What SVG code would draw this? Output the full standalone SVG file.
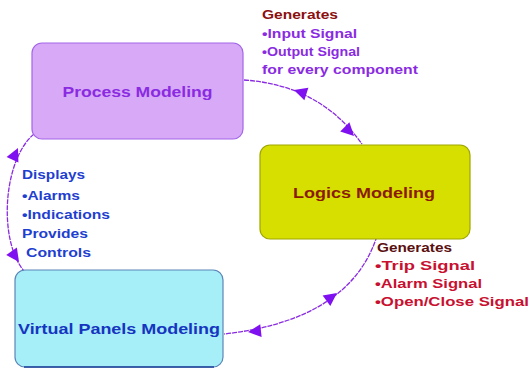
<svg xmlns="http://www.w3.org/2000/svg" xmlns:xlink="http://www.w3.org/1999/xlink" width="530" height="369" viewBox="0 0 530 369">
  <style>
    text { font-family: "Liberation Sans", Arial, sans-serif; font-weight: bold; }
    .lbl { font-size: 14.5px; }
    .note { font-size: 12.5px; }
    .conn { fill: none; stroke: #8a2be2; stroke-width: 1.3; stroke-dasharray: 5 1; }
    .head { fill: #7f10f0; }
  </style>
  <defs>
    <!-- arrowhead, tip at origin pointing along +x -->
    <path id="ah" d="M0,0 L-13,-6.5 L-13,6.5 Z"/>
  </defs>
  <rect width="530" height="369" fill="#ffffff"/>

  <g id="connectors">
    <path class="conn" d="M244,80 Q320,85 362,144"/>
    <use class="head" xlink:href="#ah" transform="translate(294,90) rotate(198)"/>
    <use class="head" xlink:href="#ah" transform="translate(354,136) rotate(45)"/>

    <path class="conn" d="M377,236 Q350,320 224,334"/>
    <use class="head" xlink:href="#ah" transform="translate(337,293) rotate(-36)"/>
    <use class="head" xlink:href="#ah" transform="translate(248,332) rotate(174)"/>

    <path class="conn" d="M34,134 C3,160 -2,240 24,271"/>
    <use class="head" xlink:href="#ah" transform="translate(18,148) rotate(-65)"/>
    <use class="head" xlink:href="#ah" transform="translate(19,262) rotate(55)"/>
  </g>

  <g id="process-modeling">
    <rect x="32" y="43" width="211" height="96" rx="10" fill="#d8a9f7" stroke="#a466e8" stroke-width="1.2"/>
    <text class="lbl" x="137.5" y="97" text-anchor="middle" fill="#8a2be2" textLength="150" lengthAdjust="spacingAndGlyphs">Process Modeling</text>
  </g>

  <g id="logics-modeling">
    <rect x="260" y="145" width="210" height="94" rx="10" fill="#d6df00" stroke="#a0a600" stroke-width="1.2"/>
    <text class="lbl" x="364" y="198" text-anchor="middle" fill="#8a1a00" textLength="142" lengthAdjust="spacingAndGlyphs">Logics Modeling</text>
  </g>

  <g id="virtual-panels-modeling">
    <rect x="15" y="270" width="208" height="97" rx="10" fill="#a6eef8" stroke="#5b86b8" stroke-width="1.2"/>
    <line x1="24" y1="367" x2="214" y2="367" stroke="#1d3f9a" stroke-width="1.6"/>
    <text class="lbl" x="119" y="334" text-anchor="middle" fill="#1535c0" textLength="202" lengthAdjust="spacingAndGlyphs">Virtual Panels Modeling</text>
  </g>

  <g id="note-process">
    <text class="note" x="262" y="19" fill="#8b1010" textLength="76" lengthAdjust="spacingAndGlyphs">Generates</text>
    <text class="note" x="262" y="38" fill="#8a2be2" textLength="95" lengthAdjust="spacingAndGlyphs">•Input Signal</text>
    <text class="note" x="262" y="56" fill="#8a2be2" textLength="98" lengthAdjust="spacingAndGlyphs">•Output Signal</text>
    <text class="note" x="262" y="74" fill="#8a2be2" textLength="156" lengthAdjust="spacingAndGlyphs">for every component</text>
  </g>

  <g id="note-panels">
    <text class="note" x="22" y="179" fill="#1f3fd0" textLength="63" lengthAdjust="spacingAndGlyphs">Displays</text>
    <text class="note" x="22" y="200" fill="#1f3fd0" textLength="58" lengthAdjust="spacingAndGlyphs">•Alarms</text>
    <text class="note" x="22" y="219" fill="#1f3fd0" textLength="88" lengthAdjust="spacingAndGlyphs">•Indications</text>
    <text class="note" x="22" y="238" fill="#1f3fd0" textLength="66" lengthAdjust="spacingAndGlyphs">Provides</text>
    <text class="note" x="26" y="257" fill="#1f3fd0" textLength="65" lengthAdjust="spacingAndGlyphs">Controls</text>
  </g>

  <g id="note-logics">
    <text class="note" x="377" y="252" fill="#5a1010" textLength="75" lengthAdjust="spacingAndGlyphs">Generates</text>
    <text class="note" x="375" y="270" fill="#c81030" textLength="100" lengthAdjust="spacingAndGlyphs">•Trip Signal</text>
    <text class="note" x="375" y="288" fill="#c81030" textLength="107" lengthAdjust="spacingAndGlyphs">•Alarm Signal</text>
    <text class="note" x="375" y="306" fill="#c81030" textLength="154" lengthAdjust="spacingAndGlyphs">•Open/Close Signal</text>
  </g>
</svg>
